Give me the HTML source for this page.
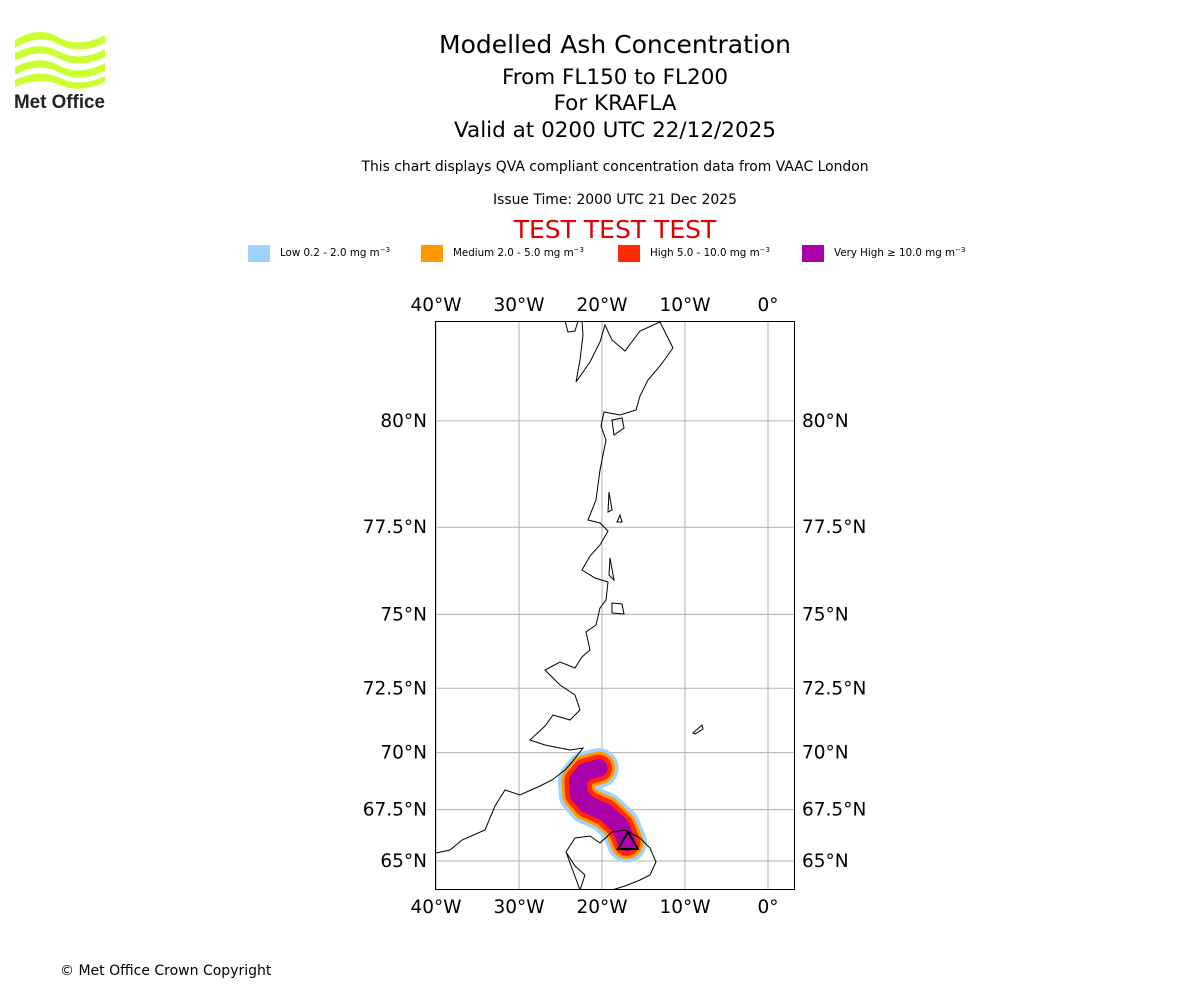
<!DOCTYPE html>
<html><head><meta charset="utf-8"><style>
body{margin:0;background:#fff;width:1200px;height:1000px;overflow:hidden;font-family:"DejaVu Sans","Liberation Sans",sans-serif;}
svg{position:absolute;left:0;top:0}
</style></head><body>
<svg id="chart" width="1200" height="1000">
 <g>
  <path d="M15 40 Q40 25 60 38 Q80 48 105 35 L105 43 Q80 55 60 45 Q40 33 15 48Z" fill="#ccff33"/>
  <path d="M15 53 Q40 40 60 52 Q80 62 105 49 L105 57 Q80 69 60 59 Q40 47 15 61Z" fill="#ccff33"/>
  <path d="M15 67 Q40 54 60 66 Q80 76 105 63 L105 71 Q80 83 60 73 Q40 61 15 75Z" fill="#ccff33"/>
  <path d="M15 80 Q40 68 60 78 Q80 88 105 76 L105 82 Q80 94 60 85 Q40 76 15 87Z" fill="#ccff33"/>
  <text x="14" y="108" font-family="Liberation Sans, sans-serif" font-weight="bold" font-size="19" fill="#222" textLength="91" lengthAdjust="spacingAndGlyphs">Met Office</text>
 </g>
 <g text-anchor="middle" fill="#000">
  <text x="615" y="53" font-size="25">Modelled Ash Concentration</text>
  <text x="615" y="84" font-size="21.5">From FL150 to FL200</text>
  <text x="615" y="110" font-size="21.5">For KRAFLA</text>
  <text x="615" y="137" font-size="21.5">Valid at 0200 UTC 22/12/2025</text>
  <text x="615" y="171" font-size="13.9">This chart displays QVA compliant concentration data from VAAC London</text>
  <text x="615" y="204" font-size="13.9">Issue Time: 2000 UTC 21 Dec 2025</text>
  <text x="615" y="238" font-size="25" fill="#e00000">TEST TEST TEST</text>
 </g>
 <g id="legend" font-size="10.3">
  <rect x="248" y="245" width="22" height="17" fill="#a0d2ff"/>
  <text x="280" y="256">Low 0.2 - 2.0 mg m<tspan dy="-4" font-size="7">−3</tspan></text>
  <rect x="421" y="245" width="22" height="17" fill="#ff9900"/>
  <text x="453" y="256">Medium 2.0 - 5.0 mg m<tspan dy="-4" font-size="7">−3</tspan></text>
  <rect x="618" y="245" width="22" height="17" fill="#ff2a00"/>
  <text x="650" y="256">High 5.0 - 10.0 mg m<tspan dy="-4" font-size="7">−3</tspan></text>
  <rect x="802" y="245" width="22" height="17" fill="#aa00aa"/>
  <text x="834" y="256">Very High  ≥  10.0 mg m<tspan dy="-4" font-size="7">−3</tspan></text>
 </g>
 <defs><clipPath id="mapclip"><rect x="435" y="321" width="360" height="569"/></clipPath></defs>
 <g id="grid"></g>
 <g id="plume" clip-path="url(#mapclip)"></g>
 <g clip-path="url(#mapclip)" fill="none" stroke="#000" stroke-width="1">
  <path d="M565 321 L568 332 L575 331 L578 321 M582 321 L583 335 L580 360 L576 382 L590 362 L600 342 L605 325 L612 340 L625 351 L640 331 L660 322 L673 348 L660 366 L648 380 L640 396 L636 410 L620 415 L604 412 L601 426 L606 440 L600 470 L596 500 L588 520 L600 523 L608 531 L600 545 L590 556 L582 570 L595 578 L608 582 L606 600 L600 608 L596 625 L586 632 L590 650 L582 657 L575 668 L560 662 L545 670 L560 685 L575 695 L580 710 L570 720 L553 715 L545 726 L530 740 L545 745 L570 750 L583 748 L572 762 L565 770 L552 780 L540 786 L520 795 L505 790 L495 806 L485 830 L462 840 L450 850 L436 853"/>
  <path d="M612 420 L622 418 L624 428 L614 435Z M609 492 L612 510 L608 512Z M620 515 L622 522 L617 522Z M610 558 L614 580 L609 575Z M612 603 L622 604 L624 614 L612 613Z"/>
  <path d="M566 852 L575 838 L590 836 L600 843 L612 832 L625 830 L640 838 L650 848 L656 862 L650 875 L640 880 L625 886 L612 890 M580 890 L585 875 L575 866 L566 852Z"/>
  <path d="M693 733 L702 725 L703 729 L695 734Z"/>
 </g>
 <g>
  <path d="M628 832 L638 849 L618 849Z" fill="none" stroke="#000" stroke-width="2"/>
 </g>
 <rect x="435.5" y="321.5" width="359" height="568" fill="none" stroke="#000"/>
 <g id="ticks" font-size="18.5" fill="#000"></g>
 <text x="60" y="975" font-size="14">© Met Office Crown Copyright</text>
</svg>
<script>
const lonTicks=[-40,-30,-20,-10,0];
const lonLabels=["40°W","30°W","20°W","10°W","0°"];
const latTicks=[65,67.5,70,72.5,75,77.5,80];
const latLabels=["65°N","67.5°N","70°N","72.5°N","75°N","77.5°N","80°N"];
const plumeLon=[-20.4,-22.0,-22.9,-22.8,-21.8,-19.6,-17.8,-17.0];
const plumeLat=[69.35,69.2,68.8,68.2,67.75,67.38,66.72,65.93];
const layerColors=["#a0d2ff","#ff9900","#ff2a00","#aa00aa"];
const layerWidths=[40,33,27,18];
const NS="http://www.w3.org/2000/svg";
const merc=l=>Math.log(Math.tan(Math.PI/4+l*Math.PI/360));
const xs=lon=>436+(lon+40)*8.3;
const ys=lat=>861-(merc(lat)-merc(65))*473.3;
const grid=document.getElementById('grid'),ticks=document.getElementById('ticks'),plume=document.getElementById('plume');
lonTicks.forEach((v,i)=>{
 const l=document.createElementNS(NS,'line');
 l.setAttribute('x1',xs(v));l.setAttribute('x2',xs(v));l.setAttribute('y1',321);l.setAttribute('y2',890);
 l.setAttribute('stroke','#b0b0b0');
 
 
 grid.appendChild(l);
 [311,913].forEach(y=>{
  const t=document.createElementNS(NS,'text');
  t.setAttribute('x',xs(v));t.setAttribute('y',y);t.setAttribute('text-anchor','middle');
  t.textContent=lonLabels[i];
  
  
  ticks.appendChild(t);
 });
});
latTicks.forEach((v,i)=>{
 const l=document.createElementNS(NS,'line');
 l.setAttribute('x1',435);l.setAttribute('x2',795);l.setAttribute('y1',ys(v));l.setAttribute('y2',ys(v));
 l.setAttribute('stroke','#b0b0b0');
 
 
 grid.appendChild(l);
 [[427,'end'],[802,'start']].forEach(([x,a])=>{
  const t=document.createElementNS(NS,'text');
  t.setAttribute('x',x);t.setAttribute('y',ys(v)+6);t.setAttribute('text-anchor',a);
  t.textContent=latLabels[i];
  
  
  ticks.appendChild(t);
 });
});
const pts=plumeLon.map((lo,i)=>xs(lo)+','+ys(plumeLat[i])).join(' ');
layerColors.forEach((c,i)=>{
 const p=document.createElementNS(NS,'polyline');
 p.setAttribute('points',pts);p.setAttribute('fill','none');p.setAttribute('stroke',c);
 p.setAttribute('stroke-width',layerWidths[i]);p.setAttribute('stroke-linejoin','round');p.setAttribute('stroke-linecap','round');
 
 
 plume.appendChild(p);
});
</script>
</body></html>
